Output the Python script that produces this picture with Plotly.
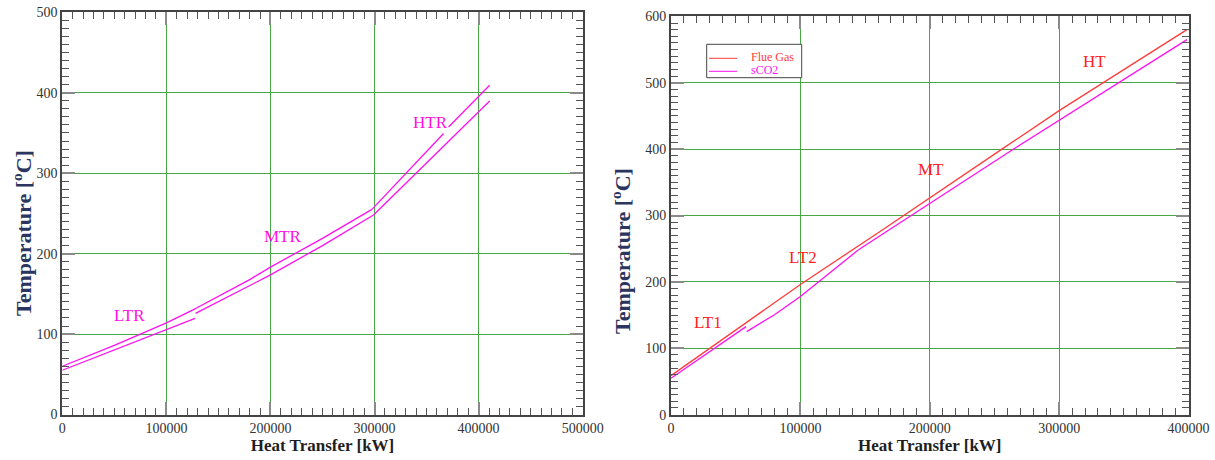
import plotly.graph_objects as go

# ---- Left chart: recuperator temperature profiles (LTR / MTR / HTR) ----
ltr_hot_x = [0, 50000, 100000, 127600]
ltr_hot_y = [60, 86, 114, 131.4]
ltr_cold_x = [0, 50000, 100000, 127600]
ltr_cold_y = [55, 80, 105.5, 119.5]

mtr_hot_x = [127600, 180500, 200000, 250000, 297500]
mtr_hot_y = [131.4, 168, 183.2, 219, 255]
mtr_cold_x = [128000, 180500, 200000, 250000, 299000]
mtr_cold_y = [125.7, 160, 173.5, 210, 248]

htr_hot_a_x = [297500, 366300]
htr_hot_a_y = [255, 349.3]
htr_hot_b_x = [371100, 410600]
htr_hot_b_y = [357.5, 409.3]
htr_cold_x = [299000, 410600]
htr_cold_y = [248, 389.8]

left_labels = ["LTR", "MTR", "HTR"]
left_label_x = [64200, 212500, 354000]
left_label_y = [123.6, 221.7, 362.5]

# ---- Right chart: flue gas heater temperature profiles ----
flue_x = [0, 100000, 161600, 200000, 255800, 300000, 398800]
flue_y = [58.7, 196, 276, 326, 400, 458, 580]

lt1_x = [0, 58000]
lt1_y = [54.7, 132.6]
lt2_x = [58500, 80000, 100000, 144900]
lt2_y = [125, 150.5, 177.8, 248.3]
mt_x = [144900, 258300]
mt_y = [248.3, 392]
ht_x = [258300, 398800]
ht_y = [392, 565]

right_labels = ["LT1", "LT2", "MT", "HT"]
right_label_x = [28800, 101700, 200900, 327300]
right_label_y = [139.2, 237.3, 369, 531.4]

legend_names = ["Flue Gas", "sCO2"]

W, H = 1215, 460
MAGENTA = "#ff10f0"
RED = "#ff3b3b"
LABEL_RED = "#ff2020"
GRID = "#45a845"
FONT = "Liberation Serif"


def px(x):
    return x / W


def py(y):
    return 1 - y / H


fig = go.Figure()


def add_line(x, y, color, xa, ya):
    fig.add_trace(go.Scatter(x=x, y=y, mode="lines", xaxis=xa, yaxis=ya,
                             line=dict(color=color, width=1.3),
                             showlegend=False, hoverinfo="skip"))


for xs, ys in [(ltr_hot_x, ltr_hot_y), (ltr_cold_x, ltr_cold_y),
               (mtr_hot_x, mtr_hot_y), (mtr_cold_x, mtr_cold_y),
               (htr_hot_a_x, htr_hot_a_y), (htr_hot_b_x, htr_hot_b_y),
               (htr_cold_x, htr_cold_y)]:
    add_line(xs, ys, MAGENTA, "x", "y")

add_line(flue_x, flue_y, RED, "x2", "y2")
for xs, ys in [(lt1_x, lt1_y), (lt2_x, lt2_y), (mt_x, mt_y), (ht_x, ht_y)]:
    add_line(xs, ys, MAGENTA, "x2", "y2")

tickfont = dict(family=FONT, size=14, color="#333333")


def axis_style(domain, rng, dtick, minor_dtick, anchor):
    return dict(
        domain=domain, range=rng, anchor=anchor, dtick=dtick, tick0=0,
        tickformat="d", showline=True, linecolor="#444444", linewidth=2,
        mirror="ticks", ticks="inside", ticklen=13, tickwidth=1.5,
        tickcolor="#8a8a8a", showgrid=True, gridcolor=GRID, gridwidth=1,
        zeroline=False, tickfont=tickfont, automargin=False,
        minor=dict(dtick=minor_dtick, tick0=0, ticks="inside", ticklen=7,
                   tickwidth=1, tickcolor="#555555", showgrid=False),
    )


xtitle_font = dict(family=FONT, size=17, color="#1e1e1e")

fig.update_layout(
    width=W, height=H,
    margin=dict(l=0, r=0, t=0, b=0),
    paper_bgcolor="white", plot_bgcolor="white",
    showlegend=False,
    xaxis=dict(**axis_style([px(62.3), px(582.7)], [0, 500000], 100000, 10000, "y"),
               title=dict(text="<b>Heat Transfer [kW]</b>", font=xtitle_font, standoff=4)),
    yaxis=dict(**axis_style([py(414.5), py(12.3)], [0, 500], 100, 10, "x")),
    xaxis2=dict(**axis_style([px(671), px(1188.5)], [0, 400000], 100000, 10000, "y2"),
                title=dict(text="<b>Heat Transfer [kW]</b>", font=xtitle_font, standoff=4)),
    yaxis2=dict(**axis_style([py(414.6), py(16.4)], [0, 600], 100, 10, "x2")),
)

# Rotated y-axis titles
ytitle_font = dict(family=FONT, size=22, color="#2b3660")
for xc, yc in [(22, 233), (621, 251)]:
    fig.add_annotation(text="<b>Temperature [<sup>o</sup>C]</b>", xref="paper", yref="paper",
                       x=px(xc), y=py(yc), xanchor="center", yanchor="middle",
                       textangle=-90, showarrow=False, font=ytitle_font)

# Section labels
for t, x, y in zip(left_labels, left_label_x, left_label_y):
    fig.add_annotation(text=t, x=x, y=y, xref="x", yref="y", showarrow=False,
                       font=dict(family=FONT, size=17, color="#ff10e0"))
for t, x, y in zip(right_labels, right_label_x, right_label_y):
    fig.add_annotation(text=t, x=x, y=y, xref="x2", yref="y2", showarrow=False,
                       font=dict(family=FONT, size=17, color=LABEL_RED))

# Legend box for the right chart
fig.add_shape(type="rect", xref="paper", yref="paper",
              x0=px(706.7), x1=px(801.7), y0=py(77.7), y1=py(44.3),
              line=dict(color="#444444", width=1), fillcolor="white")
for name, color, yl, yt in zip(legend_names, [RED, MAGENTA], [58.3, 71.3], [56.5, 70]):
    fig.add_shape(type="line", xref="paper", yref="paper",
                  x0=px(709), x1=px(737), y0=py(yl), y1=py(yl),
                  line=dict(color=color, width=1))
    fig.add_annotation(text=name, xref="paper", yref="paper", x=px(749), y=py(yt),
                       xanchor="left", yanchor="middle", showarrow=False,
                       font=dict(family=FONT, size=12, color=color))

fig.write_html("out.html")
